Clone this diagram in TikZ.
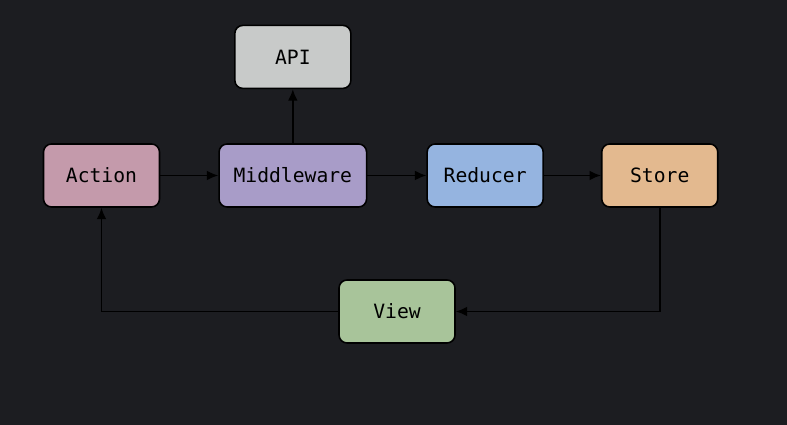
\documentclass[tikz,border=0pt]{standalone}
\usepackage{fontspec}
\setmonofont{DejaVu Sans Mono}
\usetikzlibrary{positioning}
\usetikzlibrary{arrows.meta}
\definecolor{bgdark}{HTML}{1C1D21}
\definecolor{actionpink}{HTML}{C49AAB}
\definecolor{middlepurple}{HTML}{A89CC8}
\definecolor{reducerblue}{HTML}{95B4E0}
\definecolor{storeorange}{HTML}{E3B98F}
\definecolor{viewgreen}{HTML}{A8C49A}
\definecolor{apigrey}{HTML}{C8CAC9}
\tikzset{flowbox/.style={draw = black, line width = 0.9pt, rounded corners = 0.16cm,
		minimum width = 2.32cm, minimum height = 1.26cm, inner xsep = 0.29cm,
		font = \ttfamily\fontsize{11.2}{13}\selectfont, text = black},
	flowarrow/.style={draw = black, line width = 0.9pt, -{Latex[length=6.5pt, width=5.5pt]}}}

\begin{document}
\begin{tikzpicture}

					\fill[bgdark] (0,0) rectangle (15.74,8.5);
					\useasboundingbox (0,0) rectangle (15.74,8.5);

					\node[flowbox, fill = actionpink] (action) at (2.03,4.99) {Action};
					\node[flowbox, fill = middlepurple, right = 1.16cm of action] (middleware) {Middleware};
					\node[flowbox, fill = reducerblue, right = 1.18cm of middleware] (reducer) {Reducer};
					\node[flowbox, fill = storeorange, right = 1.14cm of reducer] (store) {Store};
					\node[flowbox, fill = apigrey, above = 1.08cm of middleware] (api) {API};
					\node[flowbox, fill = viewgreen] (view) at (7.94,2.27) {View};

					\draw[flowarrow] (action) -- (middleware);
					\draw[flowarrow] (middleware) -- (api);
					\draw[flowarrow] (middleware) -- (reducer);
					\draw[flowarrow] (reducer) -- (store);
					\draw[flowarrow] (store.south) |- (view.east);
					\draw[flowarrow] (view.west) -| (action.south);

\end{tikzpicture}
\end{document}
